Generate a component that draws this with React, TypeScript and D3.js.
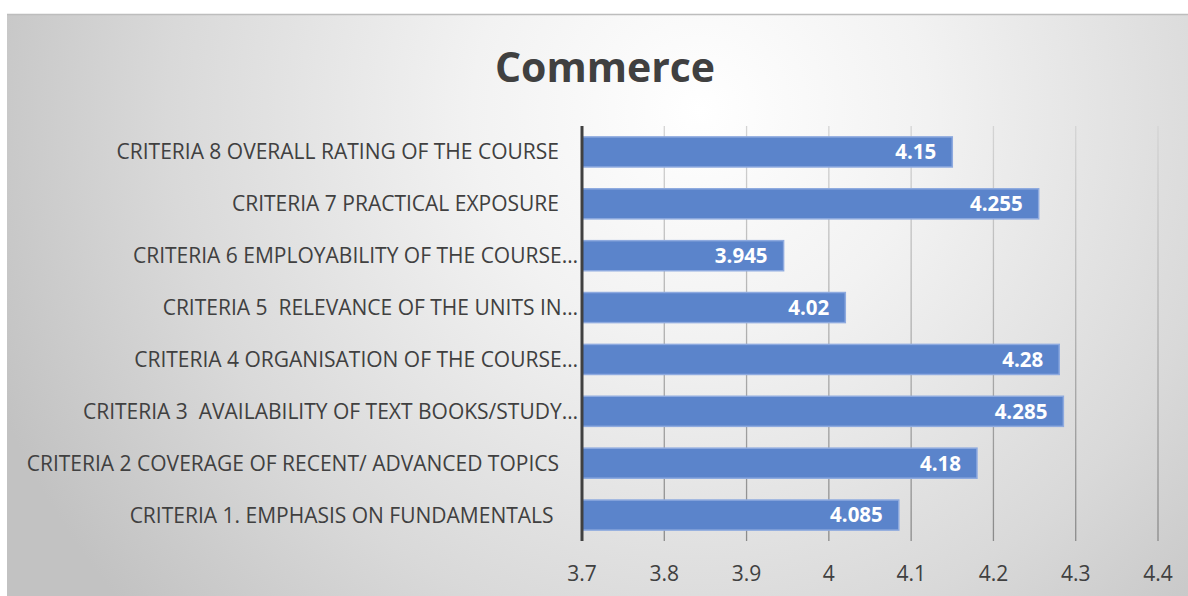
import React from "react";
import * as d3 from "d3";

const categories = [
  "CRITERIA 8 OVERALL RATING OF THE COURSE",
  "CRITERIA 7 PRACTICAL EXPOSURE",
  "CRITERIA 6 EMPLOYABILITY OF THE COURSE…",
  "CRITERIA 5  RELEVANCE OF THE UNITS IN…",
  "CRITERIA 4 ORGANISATION OF THE COURSE…",
  "CRITERIA 3  AVAILABILITY OF TEXT BOOKS/STUDY…",
  "CRITERIA 2 COVERAGE OF RECENT/ ADVANCED TOPICS",
  "CRITERIA 1. EMPHASIS ON FUNDAMENTALS\u00a0",
];
const values = [4.15, 4.255, 3.945, 4.02, 4.28, 4.285, 4.18, 4.085];
const valueLabels = ["4.15", "4.255", "3.945", "4.02", "4.28", "4.285", "4.18", "4.085"];
const ticks = [3.7, 3.8, 3.9, 4.0, 4.1, 4.2, 4.3, 4.4];
const tickLabels = ["3.7", "3.8", "3.9", "4", "4.1", "4.2", "4.3", "4.4"];
const title = "Commerce";

const W = 1188;
const H = 596;
const font = "'Open Sans', 'DejaVu Sans', sans-serif";

export default function App() {
  const x = d3.scaleLinear().domain([3.7, 4.4]).range([582, 1158]);
  const y = d3
    .scaleBand<string>()
    .domain(categories)
    .range([126, 541])
    .paddingInner(0.42)
    .paddingOuter(0.21);
  const bw = y.bandwidth();
  const [top, bottom] = y.range();

  return (
    <div style={{ position: "fixed", left: 0, top: 0 }}>
      <svg width={W} height={H} style={{ display: "block" }}>
        <defs>
          <radialGradient id="bg" gradientUnits="userSpaceOnUse" cx={700} cy={110} r={760}>
            <stop offset="0" stopColor="#ffffff" />
            <stop offset="0.3" stopColor="#f2f2f2" />
            <stop offset="0.7" stopColor="#d9d9d9" />
            <stop offset="1" stopColor="#c2c2c2" />
          </radialGradient>
          <linearGradient id="grid" gradientUnits="userSpaceOnUse" x1={0} y1={top} x2={0} y2={bottom}>
            <stop offset="0" stopColor="#d4d4d4" />
            <stop offset="1" stopColor="#8a8a8a" />
          </linearGradient>
        </defs>
        <rect x={0} y={0} width={W} height={H} fill="#ffffff" />
        <rect x={7} y={14} width={W - 7} height={H - 14} fill="url(#bg)" />
        <line x1={7} x2={W} y1={14.5} y2={14.5} stroke="#bdbdbd" strokeWidth={1.5} />

        <text
          x={605}
          y={82}
          textAnchor="middle"
          fontFamily={font}
          fontWeight={700}
          fontSize={41}
          fill="#404040"
        >
          {title}
        </text>

        {ticks.slice(1).map((t) => (
          <line
            key={t}
            x1={x(t)}
            x2={x(t)}
            y1={top}
            y2={bottom}
            stroke="url(#grid)"
            strokeWidth={1.3}
          />
        ))}

        {categories.map((c, i) => (
          <g key={c}>
            <rect
              x={x(3.7)}
              y={y(c)}
              width={x(values[i]) - x(3.7)}
              height={bw}
              fill="#5b84cb"
              stroke="#8eaadf"
              strokeWidth={1.5}
            />
            <text
              x={x(values[i]) - 16}
              y={(y(c) as number) + bw / 2}
              dy="0.36em"
              textAnchor="end"
              fontFamily={font}
              fontWeight={700}
              fontSize={20.5}
              fill="#ffffff"
            >
              {valueLabels[i]}
            </text>
            <text
              x={c.endsWith("…") ? 578 : 559}
              y={(y(c) as number) + bw / 2}
              dy="0.36em"
              textAnchor="end"
              fontFamily={font}
              fontSize={21}
              fill="#404040"
              style={{ whiteSpace: "pre" }}
            >
              {c}
            </text>
          </g>
        ))}

        <line x1={x(3.7)} x2={x(3.7)} y1={top} y2={bottom} stroke="#404040" strokeWidth={3} />

        {ticks.map((t, i) => (
          <text
            key={t}
            x={x(t)}
            y={573}
            dy="0.36em"
            textAnchor="middle"
            fontFamily={font}
            fontSize={21}
            fill="#404040"
          >
            {tickLabels[i]}
          </text>
        ))}
      </svg>
    </div>
  );
}
